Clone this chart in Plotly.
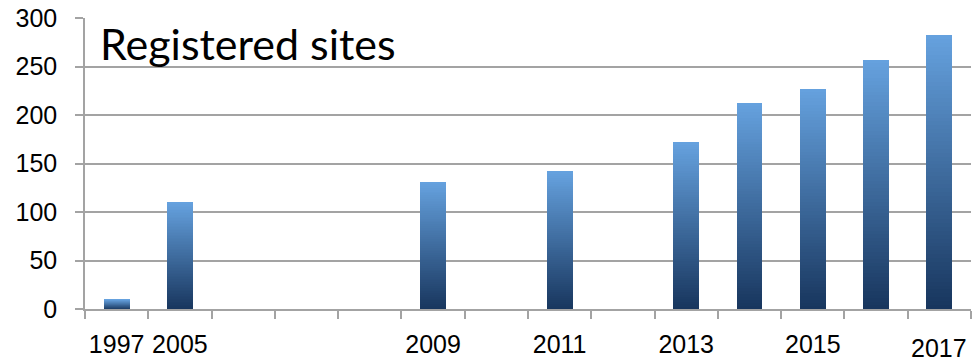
import plotly.graph_objects as go

# Registered sites per year (empty slots are years with no count)
years = ["1997", "2005", "2006", "2007", "2008", "2009", "2010",
         "2011", "2012", "2013", "2014", "2015", "2016", "2017"]
sites = [10, 110, None, None, None, 131, None, 142, None, 172, 212, 227, 257, 282]
tick_labels = ["1997", "2005", "", "", "", "2009", "", "2011", "", "2013", "",
               "2015", "", ""]
last_label = "2017"

# Vertical gradient of each bar: dark navy at the base, light blue at the top
BOTTOM = (24, 54, 94)
TOP = (101, 161, 222)
N_STEPS = 70


def mix(t):
    r, g, b = (round(BOTTOM[i] + (TOP[i] - BOTTOM[i]) * t) for i in range(3))
    return f"rgb({r},{g},{b})"


fig = go.Figure()
for k in range(N_STEPS):
    fig.add_trace(go.Bar(
        x=years,
        y=[None if v is None else v / N_STEPS for v in sites],
        marker=dict(color=mix(k / (N_STEPS - 1)), line=dict(width=0)),
        showlegend=False,
        hoverinfo="skip",
    ))

AXIS_GRAY = "#a3a3a3"
TICK_FONT = dict(family="Liberation Sans, Arial, sans-serif", size=25, color="#000000")

fig.update_layout(
    width=972,
    height=361,
    margin=dict(l=85, r=1, t=18, b=52),
    barmode="stack",
    bargap=0.59,
    plot_bgcolor="white",
    paper_bgcolor="white",
    xaxis=dict(
        type="category",
        categoryorder="array",
        categoryarray=years,
        tickmode="array",
        tickvals=years,
        ticktext=tick_labels,
        tickson="boundaries",
        ticks="outside",
        ticklen=8,
        tickwidth=1.5,
        tickcolor=AXIS_GRAY,
        showgrid=False,
        showline=True,
        linecolor=AXIS_GRAY,
        linewidth=1.5,
        tickfont=TICK_FONT,
        tickangle=0,
        ticklabelstandoff=12,
        range=[-0.5, len(years) - 0.5],
    ),
    yaxis=dict(
        range=[0, 300],
        tickvals=[0, 50, 100, 150, 200, 250, 300],
        ticks="outside",
        ticklen=8,
        tickwidth=1.5,
        tickcolor=AXIS_GRAY,
        showgrid=True,
        gridcolor=AXIS_GRAY,
        gridwidth=1.5,
        showline=True,
        linecolor=AXIS_GRAY,
        linewidth=1.5,
        zeroline=False,
        tickfont=TICK_FONT,
        ticklabelstandoff=13,
    ),
    annotations=[
        dict(
            text="Registered sites",
            xref="paper", yref="paper",
            x=0.015, y=0.914,
            xanchor="left", yanchor="middle",
            showarrow=False,
            font=dict(family="Lato, sans-serif", size=43, color="#000000"),
        ),
        dict(
            text=last_label,
            xref="paper", yref="paper",
            x=13.5 / 14, y=-0.078,
            xanchor="center", yanchor="top",
            showarrow=False,
            font=TICK_FONT,
        ),
    ],
)

fig.write_html("out.html")
